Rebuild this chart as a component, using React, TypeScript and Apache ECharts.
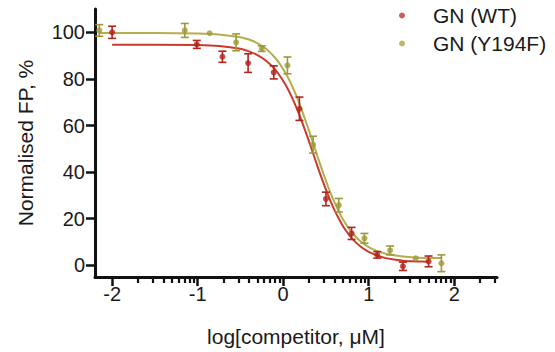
import React, { useEffect, useRef } from "react";
import * as echarts from "echarts";

// ---- data ----
const seriesNames = ["GN (WT)", "GN (Y194F)"];

const wtX = [-2, -1.01, -0.71, -0.41, -0.11, 0.19, 0.5, 0.8, 1.1, 1.4, 1.7];
const wtY = [100, 94.8, 89.5, 86.8, 82.8, 67.2, 28.5, 13.7, 4.5, -0.4, 1.7];
const wtErr = [2.6, 1.7, 2.4, 4.0, 2.8, 5.0, 2.9, 2.6, 1.4, 1.8, 2.3];

const mutX = [-2.15, -1.15, -0.86, -0.55, -0.25, 0.05, 0.35, 0.65, 0.95, 1.25, 1.55, 1.85];
const mutY = [100.8, 100.8, 99.6, 95.7, 93.0, 85.8, 51.8, 25.8, 11.6, 6.4, 3.0, 0.9];
const mutErr = [2.5, 3.0, 0, 3.6, 1.2, 3.6, 3.6, 2.9, 2.1, 1.9, 0, 3.6];

// fitted curves
const wtCurveX = [-2, -1.5, -1, -0.75, -0.5, -0.4, -0.3, -0.2, -0.1, -0.05, 0, 0.05, 0.1, 0.15, 0.2, 0.25, 0.3, 0.35, 0.4, 0.45, 0.5, 0.55, 0.6, 0.65, 0.7, 0.75, 0.8, 0.9, 1.0, 1.1, 1.2, 1.3, 1.4, 1.55, 1.7];
const wtCurveY = [94.7, 94.7, 94.5, 94.1, 92.9, 91.8, 90.2, 87.8, 84.3, 81.9, 79.2, 76.0, 72.3, 68.1, 63.5, 58.6, 53.4, 48.0, 42.6, 37.4, 32.5, 27.9, 23.7, 20.1, 16.8, 14.1, 11.7, 8.2, 5.8, 4.2, 3.1, 2.5, 2.0, 1.7, 1.5];
const mutCurveX = [-2.15, -1.5, -1, -0.75, -0.5, -0.4, -0.3, -0.2, -0.1, -0.05, 0, 0.05, 0.1, 0.15, 0.2, 0.25, 0.3, 0.35, 0.4, 0.45, 0.5, 0.55, 0.6, 0.65, 0.7, 0.75, 0.8, 0.9, 1.0, 1.1, 1.2, 1.3, 1.4, 1.6, 1.85];
const mutCurveY = [99.7, 99.7, 99.5, 99.1, 97.9, 96.9, 95.3, 92.9, 89.3, 87.0, 84.2, 81.0, 77.3, 73.1, 68.4, 63.3, 58.0, 52.5, 46.9, 41.5, 36.3, 31.4, 27.1, 23.1, 19.7, 16.8, 14.3, 10.4, 7.8, 6.1, 5.0, 4.3, 3.8, 3.3, 3.1];

const xMajorTicks = [-2, -1, 0, 1, 2];
const yTicks = [0, 20, 40, 60, 80, 100];

const X_MIN = -2.2;
const X_MAX = 2.5;
const Y_MIN = -5;
const Y_MAX = 110;

// log-scale minor ticks (log10 of 2..9 within each decade)
const xMinorTicks: number[] = [];
for (let d = -2; d <= 2; d++) {
  for (let k = 2; k <= 9; k++) {
    const v = d + Math.log10(k);
    if (v > X_MIN && v < X_MAX) xMinorTicks.push(v);
  }
}

const FONT = "'Liberation Sans', Arial, Helvetica, sans-serif";
const RED_LINE = "#cc3a2e";
const RED_PT = "#b3241c";
const OLV_LINE = "#b3af4c";
const OLV_PT = "#9c9a38";

const zip2 = (a: number[], b: number[]) => a.map((v, i) => [v, b[i]]);
const zip3 = (a: number[], b: number[], c: number[]) => a.map((v, i) => [v, b[i], c[i]]);

function errorBarSeries(data: number[][], color: string) {
  return {
    type: "custom",
    xAxisIndex: 0,
    yAxisIndex: 0,
    z: 3,
    silent: true,
    data,
    encode: { x: 0, y: 1 },
    renderItem: (params: any, api: any) => {
      const x = api.value(0);
      const y = api.value(1);
      const e = api.value(2);
      if (!e) return { type: "group", children: [] };
      const top = api.coord([x, y + e]);
      const bot = api.coord([x, y - e]);
      const hw = 4;
      const style = { stroke: color, lineWidth: 1.6 };
      return {
        type: "group",
        children: [
          { type: "line", shape: { x1: top[0], y1: top[1], x2: bot[0], y2: bot[1] }, style },
          { type: "line", shape: { x1: top[0] - hw, y1: top[1], x2: top[0] + hw, y2: top[1] }, style },
          { type: "line", shape: { x1: bot[0] - hw, y1: bot[1], x2: bot[0] + hw, y2: bot[1] }, style },
        ],
      };
    },
  };
}

export default function App() {
  const ref = useRef<HTMLDivElement>(null);

  useEffect(() => {
    document.body.style.margin = "0";
    if (!ref.current) return;
    const chart = echarts.init(ref.current, undefined, { renderer: "svg" });

    const axisLineStyle = { color: "#111", width: 3 };

    chart.setOption({
      animation: false,
      backgroundColor: "#ffffff",
      grid: { left: 95, top: 9, width: 402, height: 268, containLabel: false },
      legend: {
        orient: "vertical",
        left: 399,
        top: 5,
        padding: 0,
        itemWidth: 6,
        itemHeight: 6,
        itemGap: 7,
        icon: "circle",
        data: [
          { name: seriesNames[0], itemStyle: { color: "#c2352c" } },
          { name: seriesNames[1], itemStyle: { color: "#aba747" } },
        ],
        formatter: (name: string) => "{gap|}" + name,
        textStyle: {
          fontFamily: FONT,
          fontSize: 21,
          color: "#1a1a1a",
          lineHeight: 21,
          rich: {
            gap: { width: 23, height: 21 },
          },
        },
      },
      xAxis: [
        {
          type: "value",
          min: X_MIN,
          max: X_MAX,
          position: "bottom",
          name: "log[competitor, \u03bcM]",
          nameLocation: "middle",
          nameGap: 49,
          nameTextStyle: { fontFamily: FONT, fontSize: 21, color: "#1a1a1a" },
          axisLine: { show: true, onZero: false, lineStyle: axisLineStyle },
          axisTick: { show: true, customValues: xMajorTicks, length: 9, lineStyle: { color: "#111", width: 2.5 } },
          axisLabel: {
            customValues: xMajorTicks,
            margin: 7,
            fontFamily: FONT,
            fontSize: 20,
            color: "#1a1a1a",
            formatter: (v: number) => String(v),
          },
          splitLine: { show: false },
        },
        {
          type: "value",
          min: X_MIN,
          max: X_MAX,
          position: "bottom",
          offset: 0,
          axisLine: { show: false, onZero: false },
          axisTick: { show: true, customValues: xMinorTicks, length: 6, lineStyle: { color: "#111", width: 2.2 } },
          axisLabel: { show: false },
          splitLine: { show: false },
        },
      ],
      yAxis: {
        type: "value",
        min: Y_MIN,
        max: Y_MAX,
        name: "Normalised FP, %",
        nameLocation: "middle",
        nameGap: 59,
        nameTextStyle: { fontFamily: FONT, fontSize: 21, color: "#1a1a1a" },
        axisLine: { show: true, onZero: false, lineStyle: axisLineStyle },
        axisTick: { show: true, customValues: yTicks, length: 9, lineStyle: { color: "#111", width: 2.5 } },
        axisLabel: {
          customValues: yTicks,
          margin: 10,
          fontFamily: FONT,
          fontSize: 20,
          color: "#1a1a1a",
        },
        splitLine: { show: false },
      },
      series: [
        {
          name: seriesNames[0] + " fit",
          type: "line",
          data: zip2(wtCurveX, wtCurveY),
          smooth: 0.3,
          showSymbol: false,
          symbol: "none",
          lineStyle: { color: RED_LINE, width: 2 },
          z: 2,
          silent: true,
        },
        {
          name: seriesNames[1] + " fit",
          type: "line",
          data: zip2(mutCurveX, mutCurveY),
          smooth: 0.3,
          showSymbol: false,
          symbol: "none",
          lineStyle: { color: OLV_LINE, width: 2 },
          z: 2,
          silent: true,
        },
        errorBarSeries(zip3(wtX, wtY, wtErr), RED_PT),
        errorBarSeries(zip3(mutX, mutY, mutErr), OLV_PT),
        {
          name: seriesNames[0],
          type: "scatter",
          data: zip2(wtX, wtY),
          symbol: "circle",
          symbolSize: 6,
          itemStyle: { color: RED_PT },
          z: 4,
        },
        {
          name: seriesNames[1],
          type: "scatter",
          data: zip2(mutX, mutY),
          symbol: "circle",
          symbolSize: 6,
          itemStyle: { color: OLV_PT },
          z: 4,
        },
      ],
    });

    return () => chart.dispose();
  }, []);

  return <div ref={ref} style={{ width: 555, height: 352 }} />;
}
